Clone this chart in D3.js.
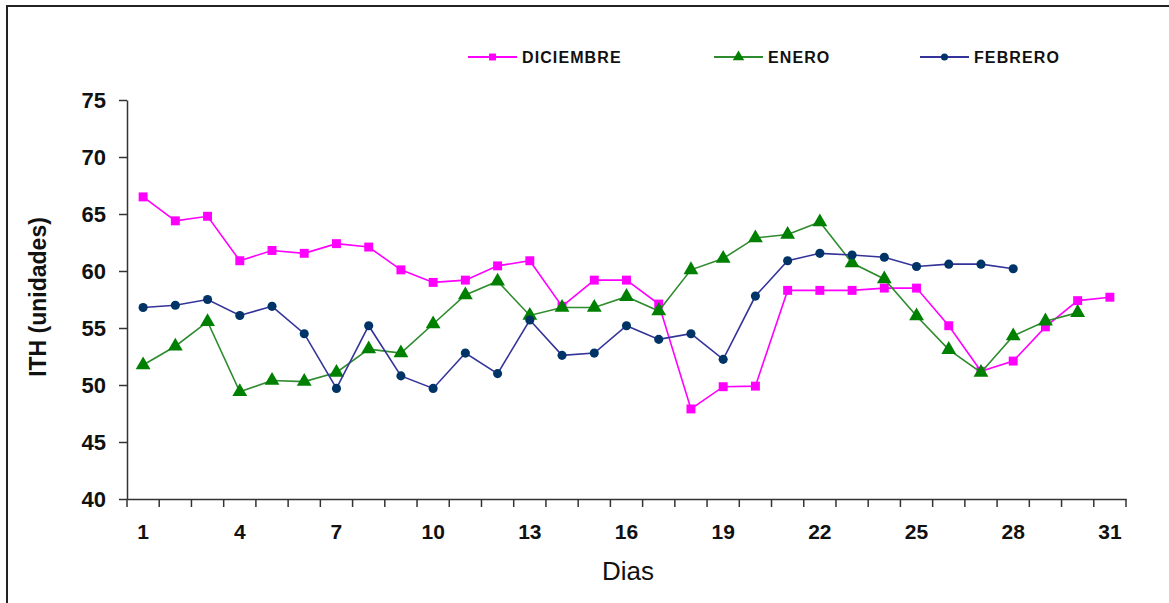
<!DOCTYPE html>
<html><head><meta charset="utf-8">
<script src="https://cdn.jsdelivr.net/npm/d3@7"></script>
<style>
html,body{margin:0;padding:0;background:#fff;}
svg{display:block;font-family:"Liberation Sans",Arial,sans-serif;}
</style></head>
<body><svg id="c" width="1169" height="603"></svg>
<script>
const days = d3.range(1, 32);
const xTickLabels = [1,4,7,10,13,16,19,22,25,28,31];
const yTicks = [40,45,50,55,60,65,70,75];
const diciembre = [66.5,64.4,64.8,60.9,61.8,61.55,62.4,62.1,60.1,59.0,59.2,60.45,60.9,56.9,59.2,59.2,57.1,47.9,49.85,49.9,58.3,58.3,58.3,58.5,58.5,55.2,51.2,52.1,55.1,57.4,57.7];
const enero = [51.75,53.4,55.55,49.4,50.4,50.3,51.1,53.15,52.8,55.35,57.9,59.1,56.1,56.8,56.8,57.75,56.5,60.1,61.1,62.9,63.2,64.3,60.7,59.3,56.05,53.1,51.1,54.3,55.6,56.35];
const febrero = [56.8,57.0,57.5,56.1,56.9,54.5,49.7,55.2,50.8,49.7,52.8,51.0,55.7,52.6,52.8,55.2,54.0,54.5,52.25,57.8,60.9,61.55,61.4,61.2,60.4,60.6,60.6,60.2];
const seriesNames = ["DICIEMBRE","ENERO","FEBRERO"];

const svg = d3.select("#c");
// frame
svg.append("path").attr("d","M7,603 V6 H1169").attr("fill","none").attr("stroke","#222").attr("stroke-width",2);

const x = d3.scaleBand().domain(days).range([127,1126]);
const y = d3.scaleLinear().domain([40,75]).range([499,100]);
const cx = d => x(d) + x.bandwidth()/2;

// y axis
const ya = svg.append("g").attr("transform","translate(127,0)")
  .call(d3.axisLeft(y).tickValues(yTicks).tickSize(8).tickSizeOuter(0).tickPadding(13));
ya.select(".domain").attr("stroke","#333").attr("stroke-width",1.5);
ya.selectAll(".tick line").attr("stroke","#333").attr("stroke-width",1.5);
ya.selectAll(".tick text").attr("font-size",22).attr("font-weight","bold").attr("fill","#111")
  .attr("font-family","'Liberation Sans',Arial,sans-serif").attr("dy","0.36em");

// x axis
const xa = svg.append("g").attr("transform","translate(0,499)")
  .call(d3.axisBottom(x).tickValues(xTickLabels).tickSize(0).tickSizeOuter(0).tickPadding(25));
xa.select(".domain").attr("stroke","#333").attr("stroke-width",1.5);
xa.selectAll(".tick text").attr("font-size",21).attr("font-weight","bold").attr("fill","#111")
  .attr("font-family","'Liberation Sans Narrow','Liberation Sans',Arial,sans-serif");
const bounds = days.map(d => x(d)).concat([x(31)+x.bandwidth()]);
xa.selectAll("line.bt").data(bounds).join("line").attr("class","bt")
  .attr("x1",d=>d).attr("x2",d=>d).attr("y1",0).attr("y2",8)
  .attr("stroke","#333").attr("stroke-width",1.5);

// titles
svg.append("text").attr("x",628).attr("y",580).attr("text-anchor","middle")
  .attr("font-size",26).attr("fill","#111").text("Dias");
svg.append("text").attr("transform","translate(46,297) rotate(-90)").attr("text-anchor","middle")
  .attr("font-size",23).attr("font-weight","bold").attr("fill","#111").text("ITH (unidades)");

const line = d3.line().x((v,i)=>cx(i+1)).y(v=>y(v));
const styles = [
  {data:diciembre, line:"#FF00FF", fill:"#FF00FF", sym:d3.symbolSquare, size:80},
  {data:enero, line:"#2E8B2E", fill:"#008000", sym:d3.symbolTriangle, size:95},
  {data:febrero, line:"#333399", fill:"#003366", sym:d3.symbolCircle, size:65}
];
styles.forEach(s=>{
  svg.append("path").datum(s.data).attr("d",line).attr("fill","none")
    .attr("stroke",s.line).attr("stroke-width",1.6);
  svg.append("g").selectAll("path").data(s.data).join("path")
    .attr("transform",(v,i)=>`translate(${cx(i+1)},${y(v)})`)
    .attr("d",d3.symbol().type(s.sym).size(s.size)).attr("fill",s.fill);
});

// legend
const legX = [468,714,920];
seriesNames.forEach((n,i)=>{
  const s = styles[i];
  const g = svg.append("g").attr("transform",`translate(${legX[i]},57)`);
  g.append("line").attr("x1",0).attr("x2",49).attr("y1",0).attr("y2",0).attr("stroke",s.line).attr("stroke-width",2);
  g.append("path").attr("transform","translate(24.5,0)").attr("d",d3.symbol().type(s.sym).size(s.size*0.6)).attr("fill",s.fill);
  g.append("text").attr("x",54).attr("y",6).attr("font-size",16).attr("font-weight","bold")
    .attr("letter-spacing","1.1px").attr("fill","#111").text(n);
});
</script></body></html>
